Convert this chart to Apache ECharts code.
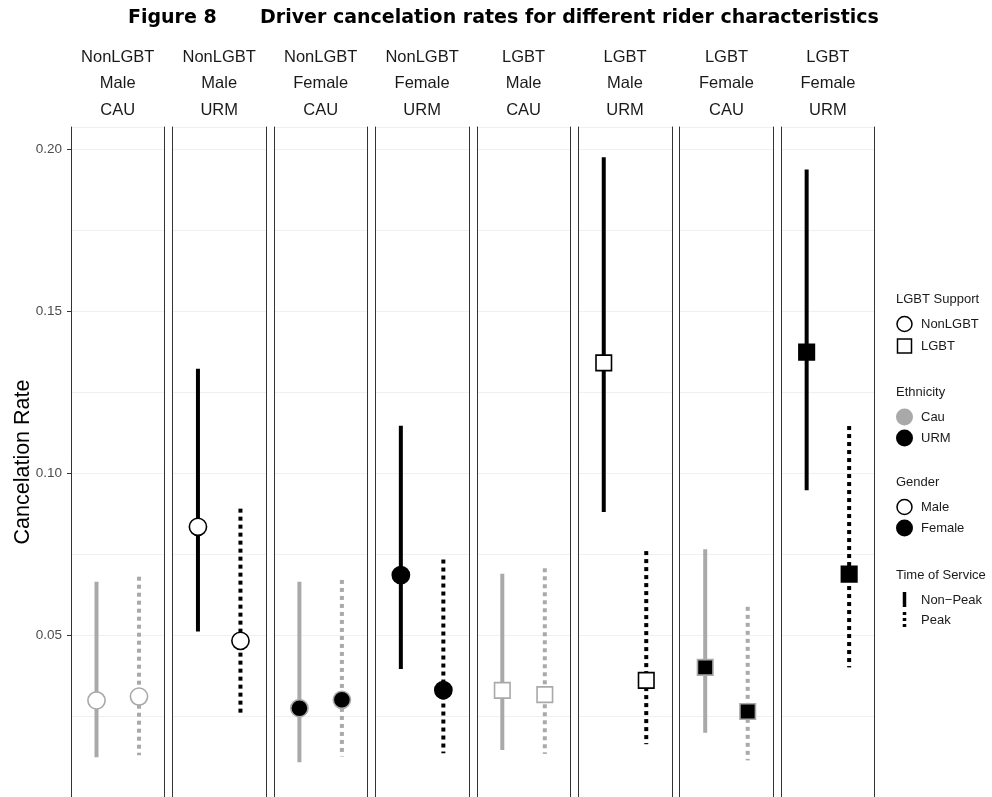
<!DOCTYPE html>
<html>
<head>
<meta charset="utf-8">
<title>Figure 8</title>
<script src="https://cdn.jsdelivr.net/npm/echarts@6/dist/echarts.min.js"></script>
<style>
  html, body { margin: 0; padding: 0; background: #fff; }
  #chart { width: 992px; height: 797px; }
</style>
</head>
<body>
<div id="chart"></div>
<script>
// facet labels
const lgbtSupport = ['NonLGBT', 'NonLGBT', 'NonLGBT', 'NonLGBT', 'LGBT', 'LGBT', 'LGBT', 'LGBT']
const gender = ['Male', 'Male', 'Female', 'Female', 'Male', 'Male', 'Female', 'Female']
const ethnicity = ['CAU', 'URM', 'CAU', 'URM', 'CAU', 'URM', 'CAU', 'URM']
const timeOfService = ['Non-Peak', 'Peak']

// cancelation rates and interval ends
const nonPeakRate = [0.0298, 0.0834, 0.0274, 0.0685, 0.0329, 0.1340, 0.0400, 0.1373]
const nonPeakLow = [0.0123, 0.0511, 0.0107, 0.0395, 0.0145, 0.0880, 0.0198, 0.0947]
const nonPeakHigh = [0.0664, 0.1322, 0.0664, 0.1146, 0.0689, 0.1975, 0.0765, 0.1937]
const peakRate = [0.0310, 0.0482, 0.0300, 0.0330, 0.0316, 0.0360, 0.0264, 0.0688]
const peakLow = [0.0129, 0.0248, 0.0125, 0.0135, 0.0133, 0.0163, 0.0113, 0.0400]
const peakHigh = [0.0680, 0.0890, 0.0670, 0.0733, 0.0706, 0.0759, 0.0587, 0.1145]

const yTicks = [0.05, 0.10, 0.15, 0.20]

const GREY = '#A9A9A9'
const FONT = '"Liberation Sans", Arial, sans-serif'
const chart = echarts.init(document.getElementById('chart'))

const PANEL_LEFT = 71
const PANEL_STEP = 101.45
const PANEL_WIDTH = 93.5
const PANEL_TOP = 127
const PANEL_HEIGHT = 674
const Y_MAX = 0.2068

const grids = []
const xAxes = []
const yAxes = []
const series = []
const graphics = []

function makeRenderer(i) {
  return function (params, api) {
    const x = api.value(0)
    const mid = api.coord([x, api.value(1)])
    const lo = api.coord([x, api.value(2)])
    const hi = api.coord([x, api.value(3)])
    const isPeak = x === 2
    const color = ethnicity[i] === 'CAU' ? GREY : '#000'
    const fill = gender[i] === 'Male' ? '#fff' : '#000'
    let marker
    if (lgbtSupport[i] === 'LGBT') {
      const s = 15.5
      marker = {
        type: 'rect',
        shape: { x: mid[0] - s / 2, y: mid[1] - s / 2, width: s, height: s },
        style: { fill: fill, stroke: color, lineWidth: 1.6 }
      }
    } else {
      marker = {
        type: 'circle',
        shape: { cx: mid[0], cy: mid[1], r: 8.6 },
        style: { fill: fill, stroke: color, lineWidth: 1.6 }
      }
    }
    return {
      type: 'group',
      children: [
        {
          type: 'line',
          shape: { x1: mid[0], y1: hi[1], x2: mid[0], y2: lo[1] },
          style: { stroke: color, lineWidth: 4, lineDash: isPeak ? [4, 4] : null, lineCap: 'butt' }
        },
        marker
      ]
    }
  }
}

for (let i = 0; i < lgbtSupport.length; i++) {
  const left = PANEL_LEFT + i * PANEL_STEP
  grids.push({ left: left, top: PANEL_TOP, width: PANEL_WIDTH, height: PANEL_HEIGHT })

  xAxes.push({
    type: 'value', gridIndex: i, min: 0.4, max: 2.6, position: 'top',
    axisLine: { show: true, lineStyle: { color: '#DDDDDD', width: 1 } },
    axisTick: { show: false }, axisLabel: { show: false }, splitLine: { show: false }
  })

  // major axis (left border, labels on first panel)
  yAxes.push({
    type: 'value', gridIndex: i, min: 0, max: Y_MAX, interval: 0.05, position: 'left',
    name: i === 0 ? 'Cancelation Rate' : '',
    nameLocation: 'middle', nameGap: 37, nameRotate: 90, nameMoveOverlap: false,
    nameTextStyle: { fontFamily: FONT, fontSize: 21.5, color: '#000' },
    axisLine: { show: true, onZero: false, lineStyle: { color: '#333', width: 1 } },
    axisTick: { show: i === 0, length: 4, lineStyle: { color: '#333' } },
    axisLabel: {
      show: i === 0, margin: 9, fontFamily: FONT, fontSize: 13.5, color: '#4D4D4D',
      showMinLabel: false, showMaxLabel: false,
      formatter: v => yTicks.some(t => Math.abs(t - v) < 1e-9) ? v.toFixed(2) : ''
    },
    splitLine: { show: true, lineStyle: { color: '#EBEBEB', width: 1 } }
  })
  // minor grid lines + right border
  yAxes.push({
    type: 'value', gridIndex: i, min: 0, max: Y_MAX, interval: 0.025, position: 'right',
    axisLine: { show: true, onZero: false, lineStyle: { color: '#333', width: 1 } },
    axisTick: { show: false }, axisLabel: { show: false },
    splitLine: { show: true, lineStyle: { color: '#F0F0F0', width: 1 } }
  })

  series.push({
    type: 'custom',
    name: lgbtSupport[i] + ' ' + gender[i] + ' ' + ethnicity[i],
    xAxisIndex: i,
    yAxisIndex: i * 2,
    renderItem: makeRenderer(i),
    data: timeOfService.map((t, k) => k === 0
      ? [1, nonPeakRate[i], nonPeakLow[i], nonPeakHigh[i]]
      : [2, peakRate[i], peakLow[i], peakHigh[i]]),
    z: 5
  })

  // strip label
  graphics.push({
    type: 'text',
    x: left + PANEL_WIDTH / 2,
    y: 44,
    style: {
      text: lgbtSupport[i] + '\n' + gender[i] + '\n' + ethnicity[i],
      align: 'center',
      verticalAlign: 'top',
      lineHeight: 26.5,
      font: '16.5px ' + FONT,
      fill: '#1A1A1A'
    }
  })
}

// legend drawn as key
const LX = 904.5
const TX = 921
function legendTitle(text, y) {
  graphics.push({ type: 'text', x: 896, y: y, style: { text: text, verticalAlign: 'middle', font: '13px ' + FONT, fill: '#1A1A1A' } })
}
function legendLabel(text, y) {
  graphics.push({ type: 'text', x: TX, y: y, style: { text: text, verticalAlign: 'middle', font: '13px ' + FONT, fill: '#1A1A1A' } })
}
legendTitle('LGBT Support', 299)
graphics.push({ type: 'circle', shape: { cx: LX, cy: 324, r: 7.5 }, style: { fill: '#fff', stroke: '#000', lineWidth: 1.5 } })
legendLabel('NonLGBT', 324)
graphics.push({ type: 'rect', shape: { x: LX - 7, y: 339, width: 14, height: 14 }, style: { fill: '#fff', stroke: '#000', lineWidth: 1.5 } })
legendLabel('LGBT', 346)

legendTitle('Ethnicity', 392)
graphics.push({ type: 'circle', shape: { cx: LX, cy: 417, r: 8.5 }, style: { fill: GREY } })
legendLabel('Cau', 417)
graphics.push({ type: 'circle', shape: { cx: LX, cy: 438, r: 8.5 }, style: { fill: '#000' } })
legendLabel('URM', 438)

legendTitle('Gender', 482)
graphics.push({ type: 'circle', shape: { cx: LX, cy: 507, r: 7.5 }, style: { fill: '#fff', stroke: '#000', lineWidth: 1.5 } })
legendLabel('Male', 507)
graphics.push({ type: 'circle', shape: { cx: LX, cy: 528, r: 8.5 }, style: { fill: '#000' } })
legendLabel('Female', 528)

legendTitle('Time of Service', 575)
graphics.push({ type: 'line', shape: { x1: LX, y1: 592, x2: LX, y2: 607 }, style: { stroke: '#000', lineWidth: 3.5 } })
legendLabel('Non\u2212Peak', 600)
graphics.push({ type: 'line', shape: { x1: LX, y1: 612, x2: LX, y2: 628 }, style: { stroke: '#000', lineWidth: 3.5, lineDash: [3, 3] } })
legendLabel('Peak', 620)

const titleStyle = { fontFamily: '"DejaVu Sans"', fontWeight: 'bold', fontSize: 19, color: '#000' }
const option = {
  animation: false,
  backgroundColor: '#fff',
  title: [
    { text: 'Figure 8', left: 123, top: 4, textStyle: titleStyle },
    { text: 'Driver cancelation rates for different rider characteristics', left: 255, top: 4, textStyle: titleStyle }
  ],
  grid: grids,
  xAxis: xAxes,
  yAxis: yAxes,
  series: series,
  graphic: graphics
}

chart.setOption(option)
</script>
</body>
</html>
